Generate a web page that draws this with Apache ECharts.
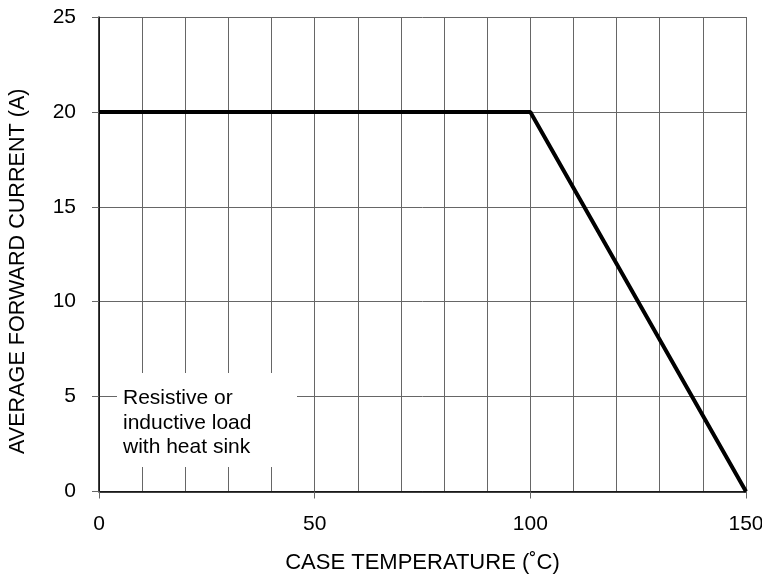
<!DOCTYPE html>
<html><head><meta charset="utf-8">
<script src="https://cdn.jsdelivr.net/npm/echarts@6/dist/echarts.min.js"></script>
<style>html,body{margin:0;padding:0;background:#fff}#c{width:762px;height:578px}</style>
</head><body><div id="c"></div>
<script>
const xTitle = 'CASE TEMPERATURE (˚C)';
const yTitle = 'AVERAGE FORWARD CURRENT (A)';
const temps = [0, 100, 150];
const current = [20, 20, 0];
const noteLines = ['Resistive or', 'inductive load', 'with heat sink'];

const chart = echarts.init(document.getElementById('c'));
const font = 'Liberation Sans, Arial, sans-serif';
chart.setOption({
  animation: false,
  grid: {left: 99, right: 16, top: 17, bottom: 86.5, containLabel: false, outerBoundsMode: 'none'},
  xAxis: {
    type: 'value', min: 0, max: 150, interval: 50,
    name: xTitle, nameLocation: 'middle', nameGap: 60,
    nameTextStyle: {fontFamily: font, fontSize: 22, color: '#000'},
    axisLine: {show: true, onZero: false, lineStyle: {color: '#000', width: 1.5}},
    axisTick: {show: true, length: 7, lineStyle: {color: '#666'}},
    axisLabel: {fontFamily: font, fontSize: 21, color: '#000', margin: 22},
    splitLine: {show: true, lineStyle: {color: '#666', width: 1}},
    minorTick: {show: false, splitNumber: 5},
    minorSplitLine: {show: true, lineStyle: {color: '#666', width: 1}}
  },
  yAxis: {
    type: 'value', min: 0, max: 25, interval: 5,
    name: yTitle, nameLocation: 'middle', nameGap: 70,
    nameTextStyle: {fontFamily: font, fontSize: 21.6, color: '#000', padding: [0, 34, 0, 0]},
    axisLine: {show: true, lineStyle: {color: '#000', width: 1.5}},
    axisTick: {show: true, length: 7, lineStyle: {color: '#666'}},
    axisLabel: {fontFamily: font, fontSize: 21, color: '#000', margin: 23},
    splitLine: {show: true, lineStyle: {color: '#666', width: 1}}
  },
  series: [{
    type: 'line',
    data: temps.map((t, i) => [t, current[i]]),
    showSymbol: false,
    lineStyle: {color: '#000', width: 4},
    z: 5
  }],
  graphic: [{
    type: 'rect', z: 100,
    shape: {x: 117, y: 373, width: 180, height: 94},
    style: {fill: '#fff'}
  }, {
    type: 'text', z: 101, left: 123, top: 386,
    style: {text: noteLines.join('\n'), font: '21px ' + font, fill: '#000', lineHeight: 24.5}
  }]
});
</script></body></html>
